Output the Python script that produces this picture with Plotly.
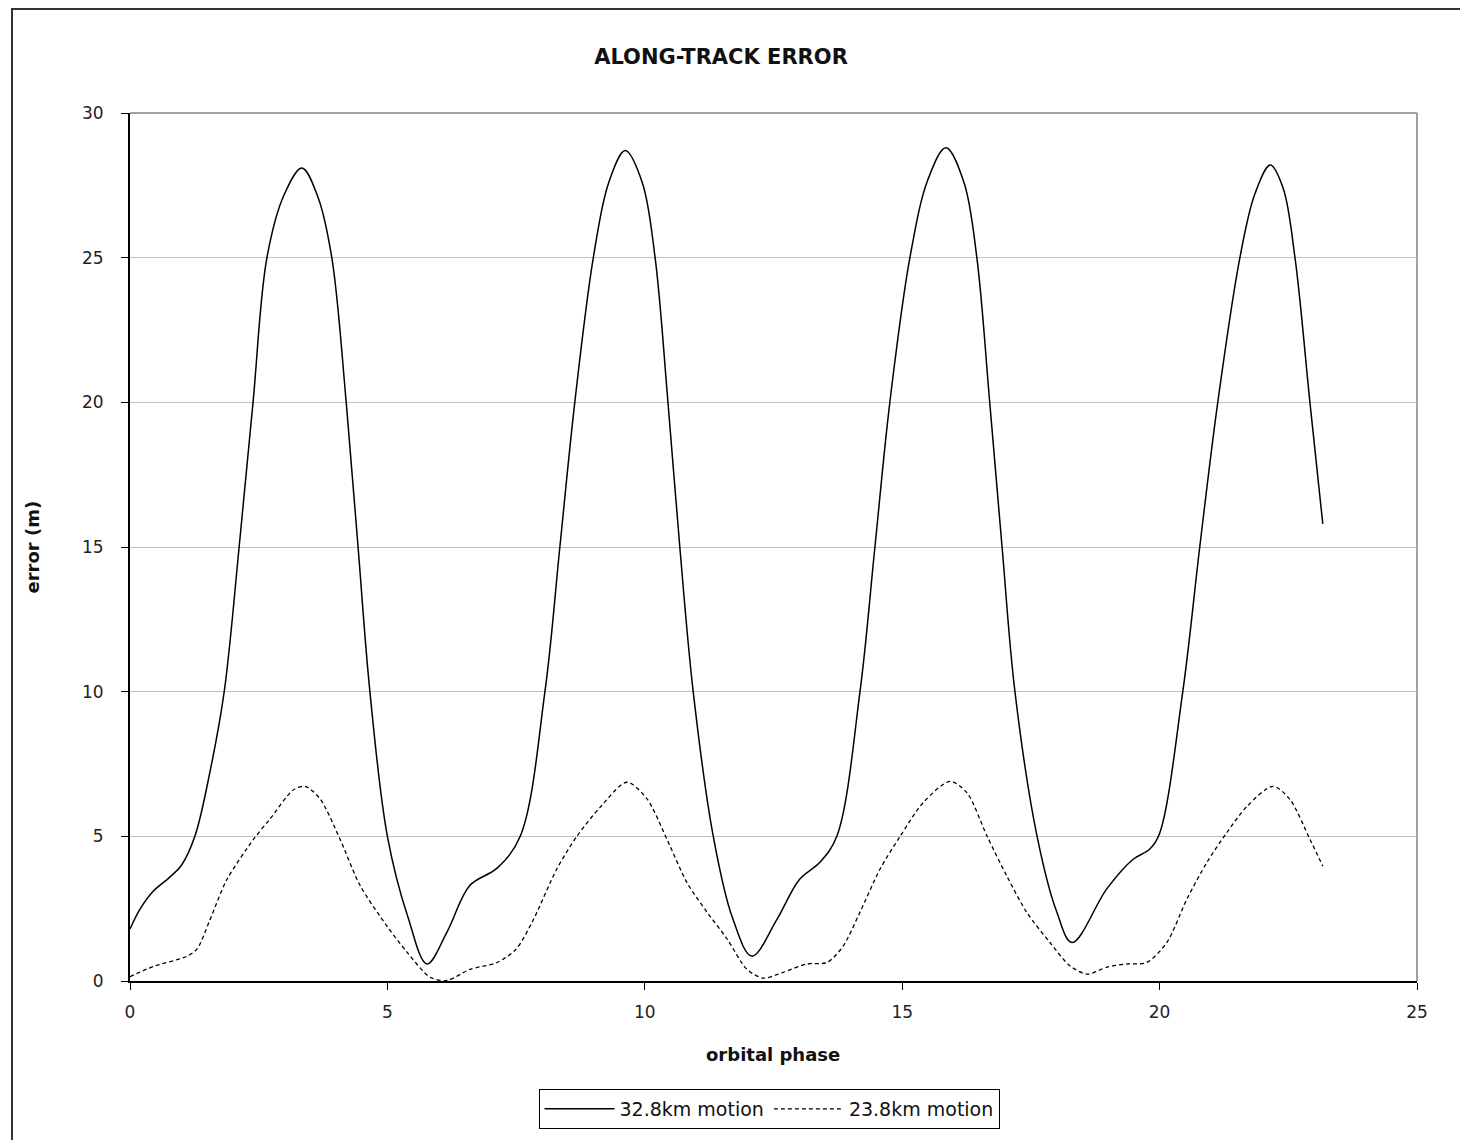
import plotly.graph_objects as go

# 32.8km motion (solid)
phase_a = [0, 0.2, 0.45, 0.78, 1.0, 1.26, 1.55, 1.83, 2.12, 2.39, 2.66, 3.0, 3.34, 3.65, 3.92,
           4.2, 4.43, 4.66, 5.0, 5.4, 5.77, 6.16, 6.6, 7.13, 7.58, 8.06, 8.35, 8.64, 9.0, 9.3,
           9.62, 9.95, 10.2, 10.45, 10.68, 10.94, 11.33, 11.7, 12.08, 12.57, 13.0, 13.4, 13.73,
           14.18, 14.47, 14.76, 15.15, 15.5, 15.85, 16.2, 16.45, 16.7, 16.94, 17.19, 17.62, 18.0,
           18.3, 18.98, 19.48, 19.81, 20.0, 20.45, 20.78, 21.13, 21.56, 21.85, 22.15, 22.4, 22.63,
           22.92, 23.17]
error_a = [1.8, 2.5, 3.1, 3.6, 4.0, 5.0, 7.2, 10, 15, 20, 25, 27.2, 28.1, 27.1, 25,
           20, 15, 10, 5, 2.2, 0.59, 1.7, 3.3, 3.9, 5.0, 10, 15, 20, 25, 27.6,
           28.7, 27.6, 25, 20, 15, 10, 5, 2.2, 0.86, 2.14, 3.5, 4.1, 5.0,
           10, 15, 20, 25, 27.7, 28.8, 27.6, 25, 20, 15, 10, 5, 2.4,
           1.33, 3.2, 4.2, 4.56, 5.1, 10, 15, 20, 25, 27.2, 28.2, 27.4, 25,
           20, 15.8]

# 23.8km motion (dashed)
phase_b = [0, 0.45, 1.1, 1.3, 1.55, 1.88, 2.4, 2.72, 3.17, 3.4, 3.69, 4.08, 4.47, 4.99, 5.38,
           5.83, 6.16, 6.6, 7.13, 7.5, 7.83, 8.29, 8.68, 9.13, 9.65, 10.04, 10.43, 10.82, 11.2,
           11.6, 11.98, 12.3, 12.69, 13.15, 13.54, 13.85, 14.18, 14.57, 14.96, 15.41, 15.93,
           16.26, 16.65, 17.04, 17.42, 17.87, 18.26, 18.59, 18.98, 19.37, 19.75, 20.14, 20.53,
           20.92, 21.31, 21.7, 22.2, 22.53, 22.92, 23.17]
error_b = [0.15, 0.5, 0.85, 1.1, 2.1, 3.5, 4.9, 5.6, 6.6, 6.73, 6.3, 4.9, 3.3, 1.9, 1.0,
           0.13, 0.02, 0.4, 0.64, 1.1, 2.1, 3.87, 5.0, 6.0, 6.87, 6.3, 4.9, 3.4, 2.4,
           1.45, 0.41, 0.1, 0.3, 0.59, 0.64, 1.2, 2.38, 3.87, 5.0, 6.17, 6.9,
           6.5, 5.0, 3.6, 2.37, 1.33, 0.52, 0.24, 0.48, 0.59, 0.64, 1.33, 2.83,
           4.1, 5.14, 6.04, 6.73, 6.28, 4.9, 3.97]

x_ticks = [0, 5, 10, 15, 20, 25]
y_ticks = [0, 5, 10, 15, 20, 25, 30]

# page has an 8px body margin; work in page pixel coordinates
OFF = 8
W, H = 1452, 1132
PL, PR, PT, PB = 130, 1417, 113, 982          # plot area in page pixels
L, T = PL - OFF, PT - OFF
R, B = W - (PR - OFF), H - (PB - OFF)
pw, ph = PR - PL, PB - PT

def px_x(p):
    return (p - PL) / pw

def px_y(p):
    return (PB - p) / ph

FONT = "DejaVu Sans, Verdana, sans-serif"

fig = go.Figure()
fig.add_trace(go.Scatter(x=phase_a, y=error_a, mode="lines", name="32.8km motion",
                         line=dict(color="black", width=1.5, shape="spline", smoothing=1.0)))
fig.add_trace(go.Scatter(x=phase_b, y=error_b, mode="lines", name="23.8km motion",
                         line=dict(color="black", width=1.3, dash="4px,3px", shape="spline", smoothing=0.8)))

fig.update_layout(
    width=W, height=H,
    margin=dict(l=L, r=R, t=T, b=B),
    paper_bgcolor="white", plot_bgcolor="white",
    font=dict(family=FONT, color="#111"),
    title=dict(text="<b>ALONG-TRACK ERROR</b>", x=(721 - OFF) / W, xanchor="center",
               y=1 - (57 - OFF) / H, yanchor="middle", yref="container",
               font=dict(size=21, family=FONT, color="#111")),
    showlegend=True,
    legend=dict(orientation="h", x=px_x(769), xanchor="center", y=px_y(1089), yanchor="top",
                bordercolor="black", borderwidth=1, bgcolor="white",
                font=dict(size=19, family=FONT, color="#111"),
                itemwidth=70, tracegroupgap=0),
    xaxis=dict(range=[0, 25], tickvals=x_ticks, ticks="outside", ticklen=7, tickcolor="black",
               showline=True, linecolor="black", linewidth=2, showgrid=False, zeroline=False,
               ticklabelstandoff=8,
               tickfont=dict(size=17, family=FONT, color="#222")),
    yaxis=dict(range=[0, 30], tickvals=y_ticks, ticks="outside", ticklen=7, tickcolor="black",
               showline=True, linecolor="black", linewidth=2, showgrid=True, gridcolor="#c0c0c0",
               gridwidth=1, zeroline=False, ticklabelstandoff=14,
               tickfont=dict(size=17, family=FONT, color="#222")),
    annotations=[
        dict(text="<b>orbital phase</b>", xref="paper", yref="paper", x=px_x(773), y=px_y(1056),
             xanchor="center", yanchor="middle", showarrow=False,
             font=dict(size=18, family=FONT, color="#111")),
        dict(text="<b>error (m)</b>", xref="paper", yref="paper", x=px_x(33), y=px_y(547),
             xanchor="center", yanchor="middle", showarrow=False, textangle=-90,
             font=dict(size=18, family=FONT, color="#111")),
    ],
    shapes=[
        # plot area frame (grey top/right)
        dict(type="line", xref="paper", yref="paper", x0=0, x1=1, y0=1, y1=1,
             line=dict(color="#a0a0a0", width=2), layer="below"),
        dict(type="line", xref="paper", yref="paper", x0=1, x1=1, y0=0, y1=1,
             line=dict(color="#a0a0a0", width=2), layer="below"),
        # outer chart border
        dict(type="line", xref="paper", yref="paper", x0=px_x(12), x1=px_x(12),
             y0=px_y(9), y1=px_y(OFF + H + 20), line=dict(color="#333", width=2)),
        dict(type="line", xref="paper", yref="paper", x0=px_x(11), x1=px_x(OFF + W + 20),
             y0=px_y(9), y1=px_y(9), line=dict(color="#333", width=2)),
    ],
)

fig.write_html("out.html")
